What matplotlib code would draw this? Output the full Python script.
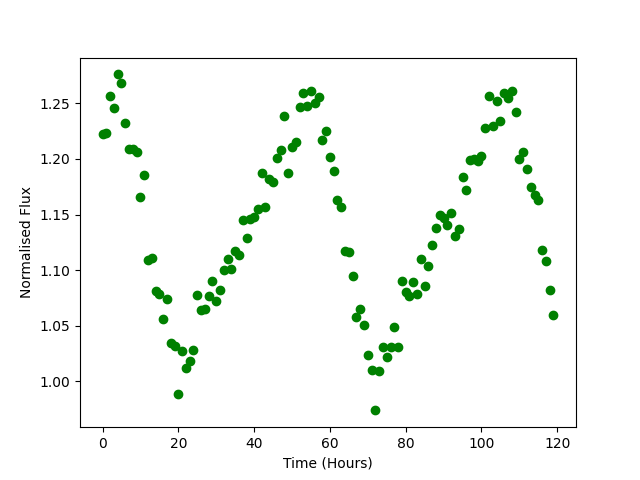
import numpy as np
import matplotlib
matplotlib.use("Agg")
import matplotlib.pyplot as plt

# hourly flux readings
hours = np.arange(120)
flux = [
    1.222, 1.223, 1.257, 1.246, 1.276, 1.268, 1.232, 1.209, 1.209, 1.206,
    1.166, 1.186, 1.109, 1.111, 1.081, 1.079, 1.056, 1.074, 1.035, 1.032,
    0.989, 1.027, 1.012, 1.018, 1.028, 1.078, 1.064, 1.065, 1.077, 1.090,
    1.072, 1.082, 1.100, 1.110, 1.101, 1.117, 1.114, 1.145, 1.129, 1.146,
    1.148, 1.155, 1.187, 1.157, 1.182, 1.179, 1.201, 1.208, 1.239, 1.187,
    1.211, 1.215, 1.247, 1.259, 1.248, 1.261, 1.250, 1.256, 1.217, 1.225,
    1.202, 1.189, 1.163, 1.157, 1.117, 1.116, 1.095, 1.058, 1.065, 1.051,
    1.024, 1.010, 0.974, 1.009, 1.031, 1.022, 1.031, 1.049, 1.031, 1.090,
    1.080, 1.077, 1.089, 1.079, 1.110, 1.086, 1.104, 1.123, 1.138, 1.150,
    1.147, 1.141, 1.151, 1.131, 1.137, 1.184, 1.172, 1.199, 1.200, 1.198,
    1.203, 1.228, 1.257, 1.230, 1.252, 1.234, 1.259, 1.255, 1.261, 1.242,
    1.200, 1.206, 1.191, 1.175, 1.168, 1.163, 1.118, 1.108, 1.082, 1.060,
]

fig, ax = plt.subplots(figsize=(6.4, 4.8), dpi=100)
ax.plot(hours, flux, 'o', color='green')
ax.set_xlabel("Time (Hours)")
ax.set_ylabel("Normalised Flux")

fig.savefig("out.png")
